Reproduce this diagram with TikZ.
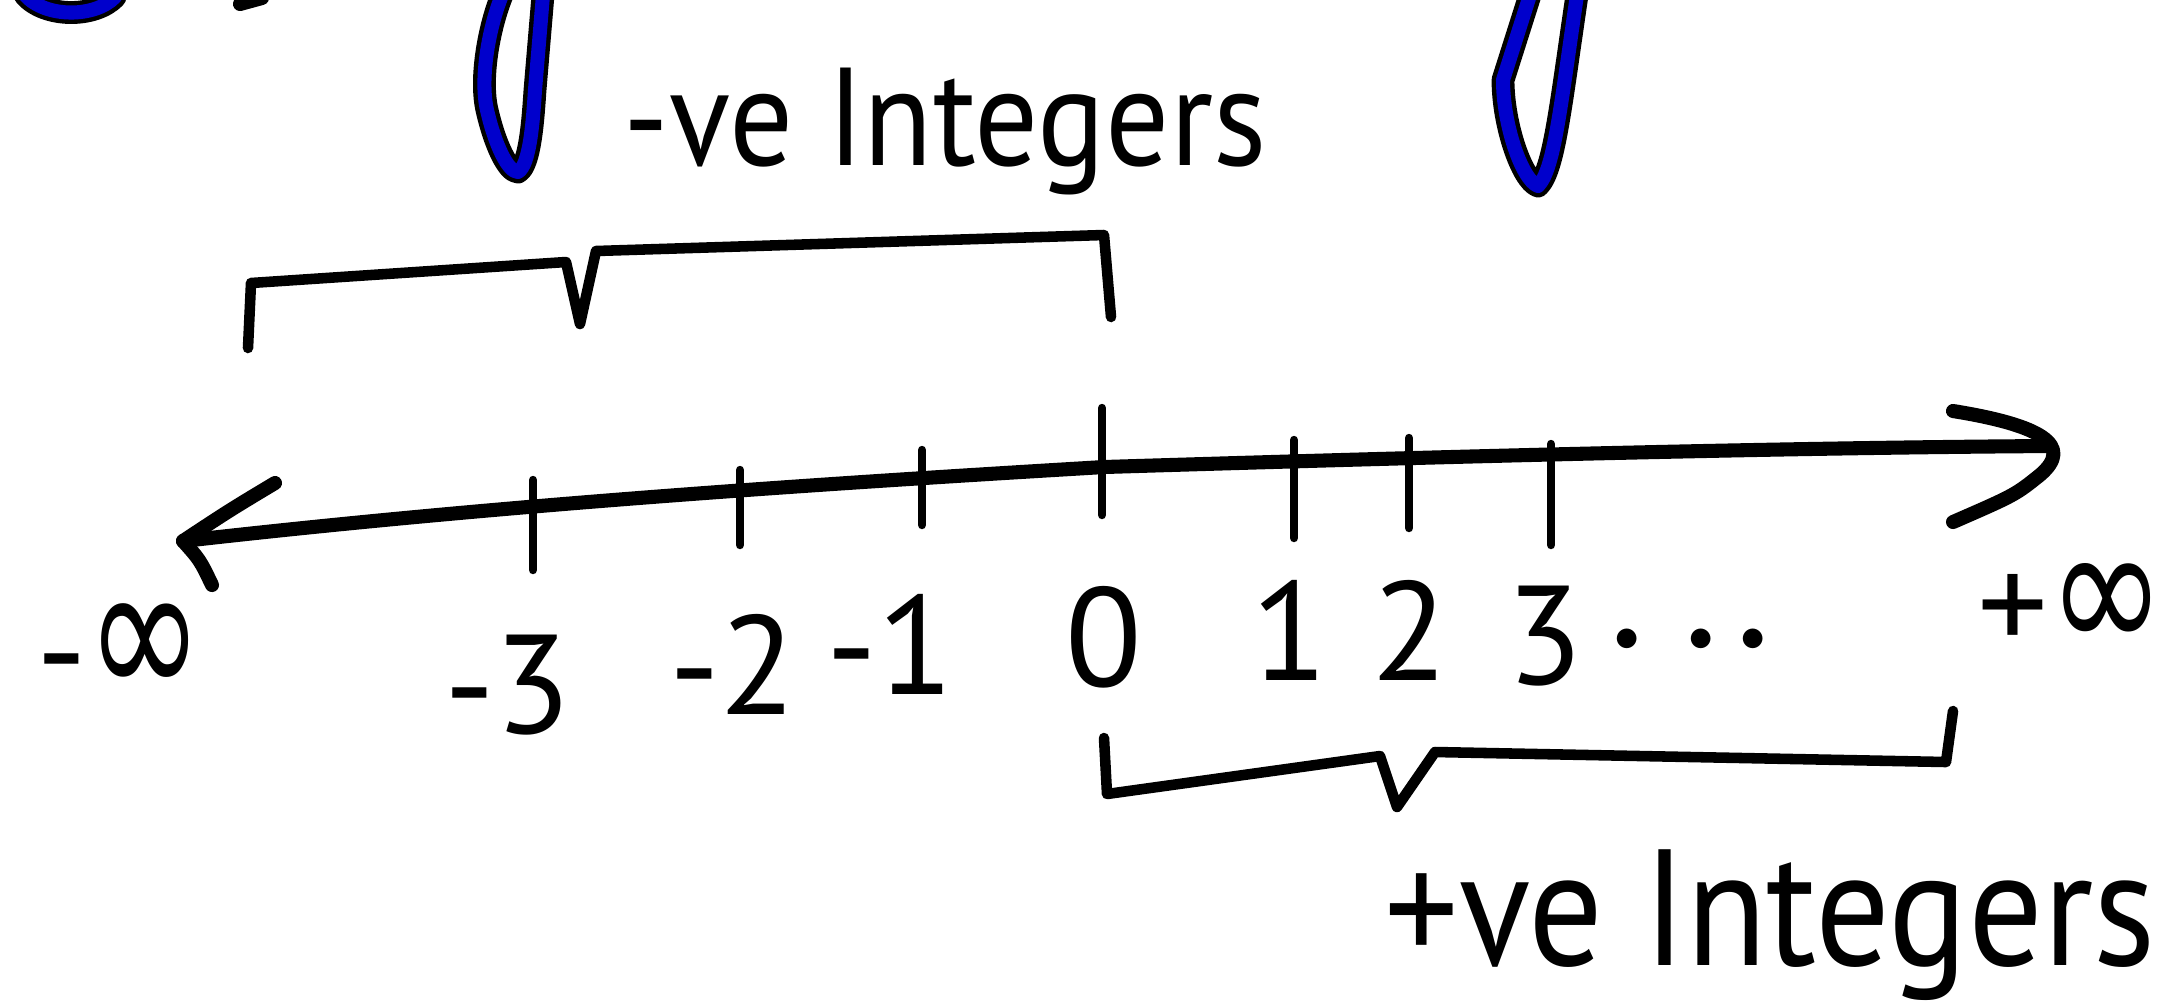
\documentclass[tikz,border=0pt]{standalone}
\usepackage{fontspec}
\setmainfont{PT Sans}
\newfontfamily\symfont{DejaVu Sans}
\begin{document}
\begin{tikzpicture}[x=0.01cm,y=-0.01cm]
 % styles for the strokes and the labels
 \tikzset{axisline/.style={line width=4pt,line cap=round,line join=round},
 tickline/.style={line width=2.4pt,line cap=round},
 braceline/.style={line width=3pt,line cap=round,line join=round},
 loopback/.style={line width=6.5pt,line cap=round,line join=round,black},
 loopfront/.style={line width=4pt,line cap=round,line join=round,blue!80!black},
 numlabel/.style={font=\fontsize{40}{44}\selectfont,inner sep=0pt},
 wordlabel/.style={font=\fontsize{36}{40}\selectfont,inner sep=0pt}}
 \useasboundingbox (0,0) rectangle (2164,1005);

 %blue marks cut off at the top
 \foreach \s in {loopback,loopfront}{
 \draw[\s] (25,-5) .. controls (45,18) and (95,18) .. (115,-3);
 \draw[\s] (502,-5) .. controls (488,30) and (480,80) .. (487,110) .. controls (495,145) and (508,172) .. (518,172) .. controls (530,165) and (533,120) .. (535,90) -- (543,-5);
 \draw[\s] (1530,-5) -- (1503,80) .. controls (1503,125) and (1522,180) .. (1538,186) .. controls (1554,170) and (1560,110) .. (1577,-5);
 }
 \draw[line width=4pt,line cap=round] (240,4) -- (262,-2);

 %draw the number line
 \coordinate (lefttip) at (183,541);
 \coordinate (zero) at (1104,467);
 \coordinate (righttip) at (2050,446);
 \draw[axisline] (lefttip) .. controls (500,505) and (800,485) .. (zero) .. controls (1400,458) and (1750,448) .. (righttip);
 \draw[axisline] (275,483) .. controls (230,510) .. (lefttip) .. controls (200,560) .. (212,585);
 \draw[axisline] (1953,411) .. controls (2040,425) and (2075,445) .. (2040,475) .. controls (2015,495) .. (1953,522);

 %add tick marks
 \foreach \name/\x/\ya/\yb in {tm3/533/480/570, tm2/740/470/545, tm1/922/450/525, t0/1102/408/515, t1/1294/440/538, t2/1409/438/528, t3/1551/444/545}
 \draw[tickline] (\x,\ya) coordinate (\name) -- (\x,\yb);

 %adding number labels
 \node[numlabel] (minf) at (120,652) {-{\symfont\scalebox{1}[1.4]{∞}}};
 \node[numlabel] (lm3) at (508,685) {-3};
 \node[numlabel] (lm2) at (733,664) {-2};
 \node[numlabel] (lm1) at (890,644) {-1};
 \node[numlabel] (l0) at (1104,637) {0};
 \node[numlabel] (l1) at (1290,630) {1};
 \node[numlabel] (l2) at (1410,630) {2};
 \node[numlabel] (l3) at (1545,636) {3};
 \node[inner sep=0pt,font=\fontsize{15}{18}\selectfont] (ldots) at (1690,640) {$\bullet$\hspace{0.49cm}$\bullet$\hspace{0.26cm}$\bullet$};
 \node[numlabel] (pinf) at (2072,608) {+{\symfont\scalebox{1}[1.3]{∞}}};

 %braces over the two halves
 \draw[braceline] (248,348) -- (251,283) -- (566,262) -- (580,324) -- (596,251) -- (1104,235) -- (1111,317);
 \draw[braceline] (1104,738) -- (1107,794) -- (1380,756) -- (1397,807) -- (1435,752) -- (1946,762) -- (1953,711);

 %brace labels
 \node[wordlabel] (negword) at (945,132) {\scalebox{1}[1.1]{-ve Integers}};
 \node[wordlabel,font=\fontsize{42}{46}\selectfont] (posword) at (1770,925) {\scalebox{1}[1.12]{+ve Integers}};
\end{tikzpicture}
\end{document}
